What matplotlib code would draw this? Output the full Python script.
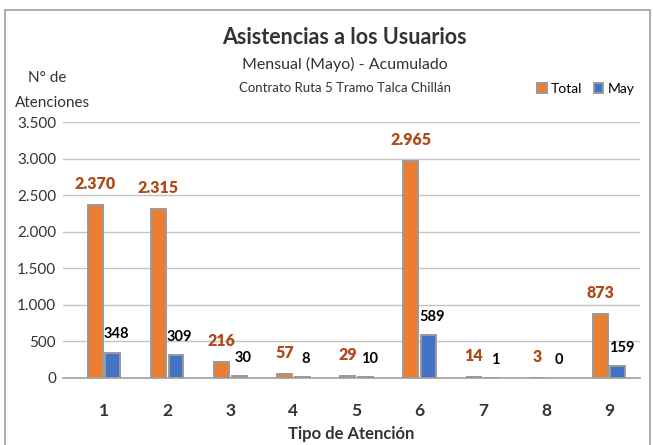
import numpy as np
import matplotlib.pyplot as plt
from matplotlib.patches import Rectangle

# data
categories = ['1', '2', '3', '4', '5', '6', '7', '8', '9']
total = [2370, 2315, 216, 57, 29, 2965, 14, 3, 873]
may = [348, 309, 30, 8, 10, 589, 1, 0, 159]
yticks = [0, 500, 1000, 1500, 2000, 2500, 3000, 3500]

plt.rcParams['font.family'] = ['Lato', 'DejaVu Sans']

fig = plt.figure(figsize=(6.53, 4.45), dpi=100)
ax = fig.add_axes([63 / 653, 0.1506, 577 / 653, 0.575])

x = np.arange(len(categories))
w = 0.235
off = 0.14
b1 = ax.bar(x - off, total, w, color='#ED7D31', edgecolor='#9a9a9a', linewidth=1.4, label='Total', zorder=3)
b2 = ax.bar(x + off, may, w, color='#4472C4', edgecolor='#9a9a9a', linewidth=1.4, label='May', zorder=3)
for r, v in zip(b2, may):
    if v == 0:
        r.set_linewidth(0)

def fmt(v):
    return f'{v:,}'.replace(',', '.')

for r, v in zip(b1, total):
    ax.annotate(fmt(v), (r.get_x() + r.get_width() / 2, v), xytext=(0, 15),
                textcoords='offset points', ha='center', va='center',
                fontsize=11.5, fontweight='heavy', color='#B04A17')
for r, v in zip(b2, may):
    ax.annotate(fmt(v), (r.get_x() + r.get_width() / 2 + 0.06, v), xytext=(0, 13),
                textcoords='offset points', ha='center', va='center',
                fontsize=10.5, fontweight='bold', color='black')

ax.set_xlim(-0.65, len(categories) - 0.51)
ax.set_ylim(0, 3500)
ax.set_yticks(yticks)
ax.set_yticklabels([fmt(t) for t in yticks], fontsize=11, color='#333333')
ax.set_xticks(x)
ax.set_xticklabels(categories, fontsize=12.5, fontweight='bold', color='#333333')
ax.tick_params(axis='both', length=0)
ax.tick_params(axis='x', pad=18)
ax.tick_params(axis='y', pad=5)
ax.grid(axis='y', color='#c4c4c4', linewidth=1, zorder=0)
for s in ['top', 'right', 'left']:
    ax.spines[s].set_visible(False)
ax.spines['bottom'].set_color('#a0a0a0')
ax.spines['bottom'].set_linewidth(1.2)
ax.set_xlabel('Tipo de Atención', fontsize=12, fontweight='bold', color='#333333', labelpad=5)

fig.text(0.528, 0.915, 'Asistencias a los Usuarios', ha='center', va='center',
         fontsize=15.5, fontweight='bold', color='#333333')
fig.text(0.528, 0.856, 'Mensual (Mayo) - Acumulado', ha='center', va='center',
         fontsize=11.5, color='#333333')
fig.text(0.528, 0.802, 'Contrato Ruta 5 Tramo Talca Chillán', ha='center', va='center',
         fontsize=9.5, color='#333333')
fig.text(0.072, 0.825, 'N° de', ha='center', va='center', fontsize=11, color='#333333')
fig.text(0.080, 0.768, 'Atenciones', ha='center', va='center', fontsize=11, color='#333333')

ax.legend(loc='center right', bbox_to_anchor=(1.0, 1.13), ncol=2, frameon=False,
          fontsize=10, handlelength=0.7, handleheight=0.7, handletextpad=0.3,
          columnspacing=0.8, borderaxespad=0)

fig.patches.append(Rectangle((5 / 653, -0.1), 645 / 653, 1.1 - 10 / 445,
                             transform=fig.transFigure, fill=False,
                             edgecolor='#a0a0a0', linewidth=1.2))

plt.savefig('out.png', dpi=100)
